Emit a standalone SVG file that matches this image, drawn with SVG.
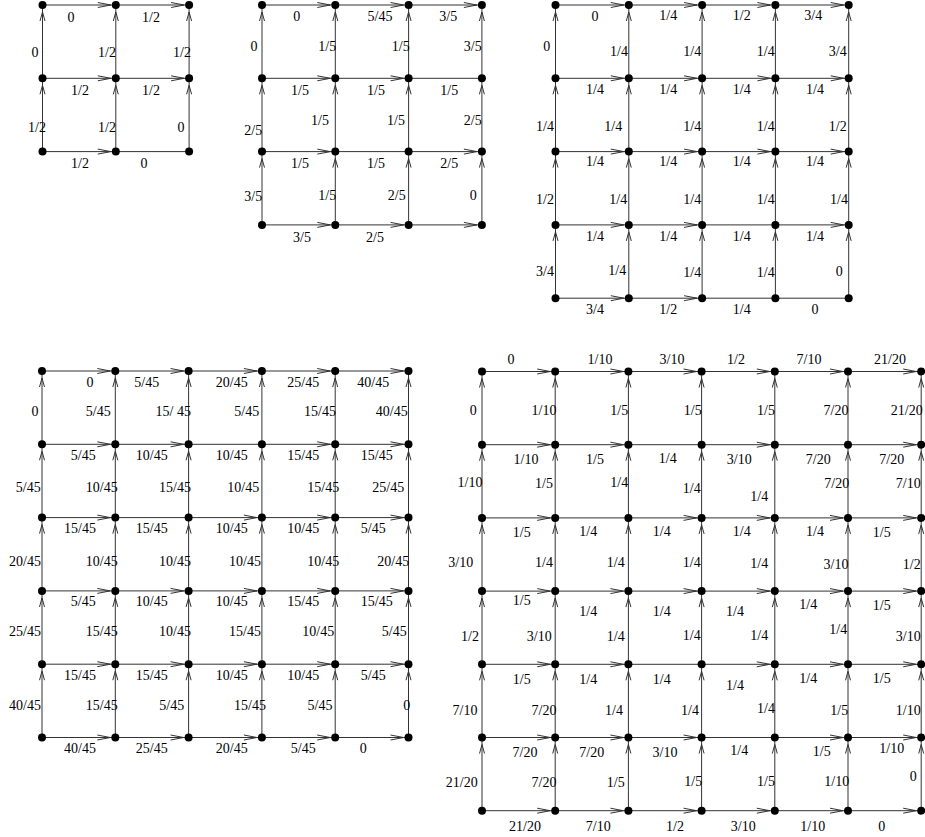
<svg xmlns="http://www.w3.org/2000/svg" width="925" height="837" viewBox="0 0 925 837">
<style>
.n{fill:#000}
.e{stroke:#333;stroke-width:1;fill:none}
.h{marker-end:url(#mh)}
.v{marker-end:url(#mv)}
text{font-family:"Liberation Serif","Times New Roman",serif;font-size:14px;fill:#000;text-anchor:middle}
</style>
<defs>
<marker id="mh" markerUnits="userSpaceOnUse" orient="auto" markerWidth="20" markerHeight="8" refX="18" refY="3" overflow="visible"><path d="M0,0.5 L13,3 L0,5.5" fill="none" stroke="#333" stroke-width="1"/></marker>
<marker id="mv" markerUnits="userSpaceOnUse" orient="auto" markerWidth="20" markerHeight="8" refX="16" refY="3" overflow="visible"><path d="M0,0.5 L9,3 L0,5.5" fill="none" stroke="#333" stroke-width="1"/></marker>
</defs>
<rect width="925" height="837" fill="#fff"/>
<g id="connectors">
<!-- grid 1 -->
<line x1="42.5" y1="5" x2="115.8" y2="5" class="e h"/>
<line x1="115.8" y1="5" x2="189.1" y2="5" class="e h"/>
<line x1="42.5" y1="78.3" x2="115.8" y2="78.3" class="e h"/>
<line x1="115.8" y1="78.3" x2="189.1" y2="78.3" class="e h"/>
<line x1="42.5" y1="151.6" x2="115.8" y2="151.6" class="e h"/>
<line x1="115.8" y1="151.6" x2="189.1" y2="151.6" class="e"/>
<line x1="42.5" y1="78.3" x2="42.5" y2="5" class="e v"/>
<line x1="42.5" y1="151.6" x2="42.5" y2="78.3" class="e v"/>
<line x1="115.8" y1="78.3" x2="115.8" y2="5" class="e v"/>
<line x1="115.8" y1="151.6" x2="115.8" y2="78.3" class="e v"/>
<line x1="189.1" y1="78.3" x2="189.1" y2="5" class="e v"/>
<line x1="189.1" y1="151.6" x2="189.1" y2="78.3" class="e v"/>
<!-- grid 2 -->
<line x1="262" y1="5" x2="335.3" y2="5" class="e h"/>
<line x1="335.3" y1="5" x2="408.6" y2="5" class="e h"/>
<line x1="408.6" y1="5" x2="481.9" y2="5" class="e h"/>
<line x1="262" y1="78.3" x2="335.3" y2="78.3" class="e h"/>
<line x1="335.3" y1="78.3" x2="408.6" y2="78.3" class="e h"/>
<line x1="408.6" y1="78.3" x2="481.9" y2="78.3" class="e"/>
<line x1="262" y1="151.6" x2="335.3" y2="151.6" class="e h"/>
<line x1="335.3" y1="151.6" x2="408.6" y2="151.6" class="e"/>
<line x1="408.6" y1="151.6" x2="481.9" y2="151.6" class="e h"/>
<line x1="262" y1="224.9" x2="335.3" y2="224.9" class="e h"/>
<line x1="335.3" y1="224.9" x2="408.6" y2="224.9" class="e h"/>
<line x1="408.6" y1="224.9" x2="481.9" y2="224.9" class="e h"/>
<line x1="262" y1="78.3" x2="262" y2="5" class="e v"/>
<line x1="262" y1="151.6" x2="262" y2="78.3" class="e v"/>
<line x1="262" y1="224.9" x2="262" y2="151.6" class="e v"/>
<line x1="335.3" y1="78.3" x2="335.3" y2="5" class="e v"/>
<line x1="335.3" y1="151.6" x2="335.3" y2="78.3" class="e v"/>
<line x1="335.3" y1="224.9" x2="335.3" y2="151.6" class="e v"/>
<line x1="408.6" y1="78.3" x2="408.6" y2="5" class="e v"/>
<line x1="408.6" y1="151.6" x2="408.6" y2="78.3" class="e v"/>
<line x1="408.6" y1="224.9" x2="408.6" y2="151.6" class="e v"/>
<line x1="481.9" y1="78.3" x2="481.9" y2="5" class="e v"/>
<line x1="481.9" y1="151.6" x2="481.9" y2="78.3" class="e v"/>
<line x1="481.9" y1="224.9" x2="481.9" y2="151.6" class="e v"/>
<!-- grid 3 -->
<line x1="555.5" y1="5" x2="628.8" y2="5" class="e h"/>
<line x1="628.8" y1="5" x2="702.1" y2="5" class="e h"/>
<line x1="702.1" y1="5" x2="775.4" y2="5" class="e h"/>
<line x1="775.4" y1="5" x2="848.7" y2="5" class="e h"/>
<line x1="555.5" y1="78.3" x2="628.8" y2="78.3" class="e h"/>
<line x1="628.8" y1="78.3" x2="702.1" y2="78.3" class="e h"/>
<line x1="702.1" y1="78.3" x2="775.4" y2="78.3" class="e h"/>
<line x1="775.4" y1="78.3" x2="848.7" y2="78.3" class="e h"/>
<line x1="555.5" y1="151.6" x2="628.8" y2="151.6" class="e h"/>
<line x1="628.8" y1="151.6" x2="702.1" y2="151.6" class="e h"/>
<line x1="702.1" y1="151.6" x2="775.4" y2="151.6" class="e h"/>
<line x1="775.4" y1="151.6" x2="848.7" y2="151.6" class="e h"/>
<line x1="555.5" y1="224.9" x2="628.8" y2="224.9" class="e h"/>
<line x1="628.8" y1="224.9" x2="702.1" y2="224.9" class="e h"/>
<line x1="702.1" y1="224.9" x2="775.4" y2="224.9" class="e"/>
<line x1="775.4" y1="224.9" x2="848.7" y2="224.9" class="e h"/>
<line x1="555.5" y1="298.2" x2="628.8" y2="298.2" class="e h"/>
<line x1="628.8" y1="298.2" x2="702.1" y2="298.2" class="e h"/>
<line x1="702.1" y1="298.2" x2="775.4" y2="298.2" class="e"/>
<line x1="775.4" y1="298.2" x2="848.7" y2="298.2" class="e"/>
<line x1="555.5" y1="78.3" x2="555.5" y2="5" class="e v"/>
<line x1="555.5" y1="151.6" x2="555.5" y2="78.3" class="e v"/>
<line x1="555.5" y1="224.9" x2="555.5" y2="151.6" class="e v"/>
<line x1="555.5" y1="298.2" x2="555.5" y2="224.9" class="e v"/>
<line x1="628.8" y1="78.3" x2="628.8" y2="5" class="e v"/>
<line x1="628.8" y1="151.6" x2="628.8" y2="78.3" class="e v"/>
<line x1="628.8" y1="224.9" x2="628.8" y2="151.6" class="e v"/>
<line x1="628.8" y1="298.2" x2="628.8" y2="224.9" class="e v"/>
<line x1="702.1" y1="78.3" x2="702.1" y2="5" class="e v"/>
<line x1="702.1" y1="151.6" x2="702.1" y2="78.3" class="e v"/>
<line x1="702.1" y1="224.9" x2="702.1" y2="151.6" class="e v"/>
<line x1="702.1" y1="298.2" x2="702.1" y2="224.9" class="e v"/>
<line x1="775.4" y1="78.3" x2="775.4" y2="5" class="e v"/>
<line x1="775.4" y1="151.6" x2="775.4" y2="78.3" class="e v"/>
<line x1="775.4" y1="224.9" x2="775.4" y2="151.6" class="e v"/>
<line x1="775.4" y1="298.2" x2="775.4" y2="224.9" class="e v"/>
<line x1="848.7" y1="78.3" x2="848.7" y2="5" class="e v"/>
<line x1="848.7" y1="151.6" x2="848.7" y2="78.3" class="e v"/>
<line x1="848.7" y1="224.9" x2="848.7" y2="151.6" class="e v"/>
<line x1="848.7" y1="298.2" x2="848.7" y2="224.9" class="e v"/>
<!-- grid 4 -->
<line x1="42" y1="371" x2="115.3" y2="371" class="e h"/>
<line x1="115.3" y1="371" x2="188.6" y2="371" class="e h"/>
<line x1="188.6" y1="371" x2="261.9" y2="371" class="e h"/>
<line x1="261.9" y1="371" x2="335.2" y2="371" class="e h"/>
<line x1="335.2" y1="371" x2="408.5" y2="371" class="e h"/>
<line x1="42" y1="444.3" x2="115.3" y2="444.3" class="e h"/>
<line x1="115.3" y1="444.3" x2="188.6" y2="444.3" class="e h"/>
<line x1="188.6" y1="444.3" x2="261.9" y2="444.3" class="e"/>
<line x1="261.9" y1="444.3" x2="335.2" y2="444.3" class="e h"/>
<line x1="335.2" y1="444.3" x2="408.5" y2="444.3" class="e h"/>
<line x1="42" y1="517.6" x2="115.3" y2="517.6" class="e h"/>
<line x1="115.3" y1="517.6" x2="188.6" y2="517.6" class="e"/>
<line x1="188.6" y1="517.6" x2="261.9" y2="517.6" class="e h"/>
<line x1="261.9" y1="517.6" x2="335.2" y2="517.6" class="e h"/>
<line x1="335.2" y1="517.6" x2="408.5" y2="517.6" class="e h"/>
<line x1="42" y1="590.9" x2="115.3" y2="590.9" class="e h"/>
<line x1="115.3" y1="590.9" x2="188.6" y2="590.9" class="e h"/>
<line x1="188.6" y1="590.9" x2="261.9" y2="590.9" class="e h"/>
<line x1="261.9" y1="590.9" x2="335.2" y2="590.9" class="e h"/>
<line x1="335.2" y1="590.9" x2="408.5" y2="590.9" class="e h"/>
<line x1="42" y1="664.2" x2="115.3" y2="664.2" class="e h"/>
<line x1="115.3" y1="664.2" x2="188.6" y2="664.2" class="e h"/>
<line x1="188.6" y1="664.2" x2="261.9" y2="664.2" class="e h"/>
<line x1="261.9" y1="664.2" x2="335.2" y2="664.2" class="e h"/>
<line x1="335.2" y1="664.2" x2="408.5" y2="664.2" class="e h"/>
<line x1="42" y1="737.5" x2="115.3" y2="737.5" class="e h"/>
<line x1="115.3" y1="737.5" x2="188.6" y2="737.5" class="e h"/>
<line x1="188.6" y1="737.5" x2="261.9" y2="737.5" class="e h"/>
<line x1="261.9" y1="737.5" x2="335.2" y2="737.5" class="e h"/>
<line x1="335.2" y1="737.5" x2="408.5" y2="737.5" class="e h"/>
<line x1="42" y1="444.3" x2="42" y2="371" class="e v"/>
<line x1="42" y1="517.6" x2="42" y2="444.3" class="e v"/>
<line x1="42" y1="590.9" x2="42" y2="517.6" class="e v"/>
<line x1="42" y1="664.2" x2="42" y2="590.9" class="e v"/>
<line x1="42" y1="737.5" x2="42" y2="664.2" class="e v"/>
<line x1="115.3" y1="444.3" x2="115.3" y2="371" class="e v"/>
<line x1="115.3" y1="517.6" x2="115.3" y2="444.3" class="e v"/>
<line x1="115.3" y1="590.9" x2="115.3" y2="517.6" class="e v"/>
<line x1="115.3" y1="664.2" x2="115.3" y2="590.9" class="e v"/>
<line x1="115.3" y1="737.5" x2="115.3" y2="664.2" class="e v"/>
<line x1="188.6" y1="444.3" x2="188.6" y2="371" class="e v"/>
<line x1="188.6" y1="517.6" x2="188.6" y2="444.3" class="e v"/>
<line x1="188.6" y1="590.9" x2="188.6" y2="517.6" class="e v"/>
<line x1="188.6" y1="664.2" x2="188.6" y2="590.9" class="e v"/>
<line x1="188.6" y1="737.5" x2="188.6" y2="664.2" class="e v"/>
<line x1="261.9" y1="444.3" x2="261.9" y2="371" class="e v"/>
<line x1="261.9" y1="517.6" x2="261.9" y2="444.3" class="e v"/>
<line x1="261.9" y1="590.9" x2="261.9" y2="517.6" class="e v"/>
<line x1="261.9" y1="664.2" x2="261.9" y2="590.9" class="e v"/>
<line x1="261.9" y1="737.5" x2="261.9" y2="664.2" class="e v"/>
<line x1="335.2" y1="444.3" x2="335.2" y2="371" class="e v"/>
<line x1="335.2" y1="517.6" x2="335.2" y2="444.3" class="e v"/>
<line x1="335.2" y1="590.9" x2="335.2" y2="517.6" class="e v"/>
<line x1="335.2" y1="664.2" x2="335.2" y2="590.9" class="e v"/>
<line x1="335.2" y1="737.5" x2="335.2" y2="664.2" class="e v"/>
<line x1="408.5" y1="444.3" x2="408.5" y2="371" class="e v"/>
<line x1="408.5" y1="517.6" x2="408.5" y2="444.3" class="e v"/>
<line x1="408.5" y1="590.9" x2="408.5" y2="517.6" class="e v"/>
<line x1="408.5" y1="664.2" x2="408.5" y2="590.9" class="e v"/>
<line x1="408.5" y1="737.5" x2="408.5" y2="664.2" class="e v"/>
<!-- grid 5 -->
<line x1="482" y1="371.5" x2="555.2" y2="371.5" class="e h"/>
<line x1="555.2" y1="371.5" x2="628.4" y2="371.5" class="e h"/>
<line x1="628.4" y1="371.5" x2="701.6" y2="371.5" class="e h"/>
<line x1="701.6" y1="371.5" x2="774.8" y2="371.5" class="e h"/>
<line x1="774.8" y1="371.5" x2="848" y2="371.5" class="e h"/>
<line x1="848" y1="371.5" x2="921.2" y2="371.5" class="e h"/>
<line x1="482" y1="444.7" x2="555.2" y2="444.7" class="e h"/>
<line x1="555.2" y1="444.7" x2="628.4" y2="444.7" class="e h"/>
<line x1="628.4" y1="444.7" x2="701.6" y2="444.7" class="e"/>
<line x1="701.6" y1="444.7" x2="774.8" y2="444.7" class="e h"/>
<line x1="774.8" y1="444.7" x2="848" y2="444.7" class="e"/>
<line x1="848" y1="444.7" x2="921.2" y2="444.7" class="e h"/>
<line x1="482" y1="517.9" x2="555.2" y2="517.9" class="e h"/>
<line x1="555.2" y1="517.9" x2="628.4" y2="517.9" class="e"/>
<line x1="628.4" y1="517.9" x2="701.6" y2="517.9" class="e h"/>
<line x1="701.6" y1="517.9" x2="774.8" y2="517.9" class="e h"/>
<line x1="774.8" y1="517.9" x2="848" y2="517.9" class="e h"/>
<line x1="848" y1="517.9" x2="921.2" y2="517.9" class="e h"/>
<line x1="482" y1="591.1" x2="555.2" y2="591.1" class="e h"/>
<line x1="555.2" y1="591.1" x2="628.4" y2="591.1" class="e h"/>
<line x1="628.4" y1="591.1" x2="701.6" y2="591.1" class="e h"/>
<line x1="701.6" y1="591.1" x2="774.8" y2="591.1" class="e h"/>
<line x1="774.8" y1="591.1" x2="848" y2="591.1" class="e h"/>
<line x1="848" y1="591.1" x2="921.2" y2="591.1" class="e h"/>
<line x1="482" y1="664.3" x2="555.2" y2="664.3" class="e h"/>
<line x1="555.2" y1="664.3" x2="628.4" y2="664.3" class="e h"/>
<line x1="628.4" y1="664.3" x2="701.6" y2="664.3" class="e"/>
<line x1="701.6" y1="664.3" x2="774.8" y2="664.3" class="e h"/>
<line x1="774.8" y1="664.3" x2="848" y2="664.3" class="e h"/>
<line x1="848" y1="664.3" x2="921.2" y2="664.3" class="e h"/>
<line x1="482" y1="737.5" x2="555.2" y2="737.5" class="e h"/>
<line x1="555.2" y1="737.5" x2="628.4" y2="737.5" class="e h"/>
<line x1="628.4" y1="737.5" x2="701.6" y2="737.5" class="e h"/>
<line x1="701.6" y1="737.5" x2="774.8" y2="737.5" class="e"/>
<line x1="774.8" y1="737.5" x2="848" y2="737.5" class="e h"/>
<line x1="848" y1="737.5" x2="921.2" y2="737.5" class="e h"/>
<line x1="482" y1="810.7" x2="555.2" y2="810.7" class="e h"/>
<line x1="555.2" y1="810.7" x2="628.4" y2="810.7" class="e h"/>
<line x1="628.4" y1="810.7" x2="701.6" y2="810.7" class="e h"/>
<line x1="701.6" y1="810.7" x2="774.8" y2="810.7" class="e h"/>
<line x1="774.8" y1="810.7" x2="848" y2="810.7" class="e h"/>
<line x1="848" y1="810.7" x2="921.2" y2="810.7" class="e h"/>
<line x1="482" y1="444.7" x2="482" y2="371.5" class="e v"/>
<line x1="482" y1="517.9" x2="482" y2="444.7" class="e v"/>
<line x1="482" y1="591.1" x2="482" y2="517.9" class="e v"/>
<line x1="482" y1="664.3" x2="482" y2="591.1" class="e v"/>
<line x1="482" y1="737.5" x2="482" y2="664.3" class="e v"/>
<line x1="482" y1="810.7" x2="482" y2="737.5" class="e v"/>
<line x1="555.2" y1="444.7" x2="555.2" y2="371.5" class="e v"/>
<line x1="555.2" y1="517.9" x2="555.2" y2="444.7" class="e v"/>
<line x1="555.2" y1="591.1" x2="555.2" y2="517.9" class="e v"/>
<line x1="555.2" y1="664.3" x2="555.2" y2="591.1" class="e v"/>
<line x1="555.2" y1="737.5" x2="555.2" y2="664.3" class="e v"/>
<line x1="555.2" y1="810.7" x2="555.2" y2="737.5" class="e v"/>
<line x1="628.4" y1="444.7" x2="628.4" y2="371.5" class="e v"/>
<line x1="628.4" y1="517.9" x2="628.4" y2="444.7" class="e v"/>
<line x1="628.4" y1="591.1" x2="628.4" y2="517.9" class="e v"/>
<line x1="628.4" y1="664.3" x2="628.4" y2="591.1" class="e v"/>
<line x1="628.4" y1="737.5" x2="628.4" y2="664.3" class="e v"/>
<line x1="628.4" y1="810.7" x2="628.4" y2="737.5" class="e v"/>
<line x1="701.6" y1="444.7" x2="701.6" y2="371.5" class="e v"/>
<line x1="701.6" y1="517.9" x2="701.6" y2="444.7" class="e v"/>
<line x1="701.6" y1="591.1" x2="701.6" y2="517.9" class="e v"/>
<line x1="701.6" y1="664.3" x2="701.6" y2="591.1" class="e v"/>
<line x1="701.6" y1="737.5" x2="701.6" y2="664.3" class="e v"/>
<line x1="701.6" y1="810.7" x2="701.6" y2="737.5" class="e v"/>
<line x1="774.8" y1="444.7" x2="774.8" y2="371.5" class="e v"/>
<line x1="774.8" y1="517.9" x2="774.8" y2="444.7" class="e v"/>
<line x1="774.8" y1="591.1" x2="774.8" y2="517.9" class="e v"/>
<line x1="774.8" y1="664.3" x2="774.8" y2="591.1" class="e v"/>
<line x1="774.8" y1="737.5" x2="774.8" y2="664.3" class="e v"/>
<line x1="774.8" y1="810.7" x2="774.8" y2="737.5" class="e v"/>
<line x1="848" y1="444.7" x2="848" y2="371.5" class="e v"/>
<line x1="848" y1="517.9" x2="848" y2="444.7" class="e v"/>
<line x1="848" y1="591.1" x2="848" y2="517.9" class="e v"/>
<line x1="848" y1="664.3" x2="848" y2="591.1" class="e v"/>
<line x1="848" y1="737.5" x2="848" y2="664.3" class="e v"/>
<line x1="848" y1="810.7" x2="848" y2="737.5" class="e v"/>
<line x1="921.2" y1="444.7" x2="921.2" y2="371.5" class="e v"/>
<line x1="921.2" y1="517.9" x2="921.2" y2="444.7" class="e v"/>
<line x1="921.2" y1="591.1" x2="921.2" y2="517.9" class="e v"/>
<line x1="921.2" y1="664.3" x2="921.2" y2="591.1" class="e v"/>
<line x1="921.2" y1="737.5" x2="921.2" y2="664.3" class="e v"/>
<line x1="921.2" y1="810.7" x2="921.2" y2="737.5" class="e v"/>
</g>
<g id="nodes">
<g id="g1r0c0"><circle class="n" cx="42.5" cy="5" r="4"/></g>
<g id="g1r0c1"><circle class="n" cx="115.8" cy="5" r="4"/></g>
<g id="g1r0c2"><circle class="n" cx="189.1" cy="5" r="4"/></g>
<g id="g1r1c0"><circle class="n" cx="42.5" cy="78.3" r="4"/></g>
<g id="g1r1c1"><circle class="n" cx="115.8" cy="78.3" r="4"/></g>
<g id="g1r1c2"><circle class="n" cx="189.1" cy="78.3" r="4"/></g>
<g id="g1r2c0"><circle class="n" cx="42.5" cy="151.6" r="4"/></g>
<g id="g1r2c1"><circle class="n" cx="115.8" cy="151.6" r="4"/></g>
<g id="g1r2c2"><circle class="n" cx="189.1" cy="151.6" r="4"/></g>
<g id="g2r0c0"><circle class="n" cx="262" cy="5" r="4"/></g>
<g id="g2r0c1"><circle class="n" cx="335.3" cy="5" r="4"/></g>
<g id="g2r0c2"><circle class="n" cx="408.6" cy="5" r="4"/></g>
<g id="g2r0c3"><circle class="n" cx="481.9" cy="5" r="4"/></g>
<g id="g2r1c0"><circle class="n" cx="262" cy="78.3" r="4"/></g>
<g id="g2r1c1"><circle class="n" cx="335.3" cy="78.3" r="4"/></g>
<g id="g2r1c2"><circle class="n" cx="408.6" cy="78.3" r="4"/></g>
<g id="g2r1c3"><circle class="n" cx="481.9" cy="78.3" r="4"/></g>
<g id="g2r2c0"><circle class="n" cx="262" cy="151.6" r="4"/></g>
<g id="g2r2c1"><circle class="n" cx="335.3" cy="151.6" r="4"/></g>
<g id="g2r2c2"><circle class="n" cx="408.6" cy="151.6" r="4"/></g>
<g id="g2r2c3"><circle class="n" cx="481.9" cy="151.6" r="4"/></g>
<g id="g2r3c0"><circle class="n" cx="262" cy="224.9" r="4"/></g>
<g id="g2r3c1"><circle class="n" cx="335.3" cy="224.9" r="4"/></g>
<g id="g2r3c2"><circle class="n" cx="408.6" cy="224.9" r="4"/></g>
<g id="g2r3c3"><circle class="n" cx="481.9" cy="224.9" r="4"/></g>
<g id="g3r0c0"><circle class="n" cx="555.5" cy="5" r="4"/></g>
<g id="g3r0c1"><circle class="n" cx="628.8" cy="5" r="4"/></g>
<g id="g3r0c2"><circle class="n" cx="702.1" cy="5" r="4"/></g>
<g id="g3r0c3"><circle class="n" cx="775.4" cy="5" r="4"/></g>
<g id="g3r0c4"><circle class="n" cx="848.7" cy="5" r="4"/></g>
<g id="g3r1c0"><circle class="n" cx="555.5" cy="78.3" r="4"/></g>
<g id="g3r1c1"><circle class="n" cx="628.8" cy="78.3" r="4"/></g>
<g id="g3r1c2"><circle class="n" cx="702.1" cy="78.3" r="4"/></g>
<g id="g3r1c3"><circle class="n" cx="775.4" cy="78.3" r="4"/></g>
<g id="g3r1c4"><circle class="n" cx="848.7" cy="78.3" r="4"/></g>
<g id="g3r2c0"><circle class="n" cx="555.5" cy="151.6" r="4"/></g>
<g id="g3r2c1"><circle class="n" cx="628.8" cy="151.6" r="4"/></g>
<g id="g3r2c2"><circle class="n" cx="702.1" cy="151.6" r="4"/></g>
<g id="g3r2c3"><circle class="n" cx="775.4" cy="151.6" r="4"/></g>
<g id="g3r2c4"><circle class="n" cx="848.7" cy="151.6" r="4"/></g>
<g id="g3r3c0"><circle class="n" cx="555.5" cy="224.9" r="4"/></g>
<g id="g3r3c1"><circle class="n" cx="628.8" cy="224.9" r="4"/></g>
<g id="g3r3c2"><circle class="n" cx="702.1" cy="224.9" r="4"/></g>
<g id="g3r3c3"><circle class="n" cx="775.4" cy="224.9" r="4"/></g>
<g id="g3r3c4"><circle class="n" cx="848.7" cy="224.9" r="4"/></g>
<g id="g3r4c0"><circle class="n" cx="555.5" cy="298.2" r="4"/></g>
<g id="g3r4c1"><circle class="n" cx="628.8" cy="298.2" r="4"/></g>
<g id="g3r4c2"><circle class="n" cx="702.1" cy="298.2" r="4"/></g>
<g id="g3r4c3"><circle class="n" cx="775.4" cy="298.2" r="4"/></g>
<g id="g3r4c4"><circle class="n" cx="848.7" cy="298.2" r="4"/></g>
<g id="g4r0c0"><circle class="n" cx="42" cy="371" r="4"/></g>
<g id="g4r0c1"><circle class="n" cx="115.3" cy="371" r="4"/></g>
<g id="g4r0c2"><circle class="n" cx="188.6" cy="371" r="4"/></g>
<g id="g4r0c3"><circle class="n" cx="261.9" cy="371" r="4"/></g>
<g id="g4r0c4"><circle class="n" cx="335.2" cy="371" r="4"/></g>
<g id="g4r0c5"><circle class="n" cx="408.5" cy="371" r="4"/></g>
<g id="g4r1c0"><circle class="n" cx="42" cy="444.3" r="4"/></g>
<g id="g4r1c1"><circle class="n" cx="115.3" cy="444.3" r="4"/></g>
<g id="g4r1c2"><circle class="n" cx="188.6" cy="444.3" r="4"/></g>
<g id="g4r1c3"><circle class="n" cx="261.9" cy="444.3" r="4"/></g>
<g id="g4r1c4"><circle class="n" cx="335.2" cy="444.3" r="4"/></g>
<g id="g4r1c5"><circle class="n" cx="408.5" cy="444.3" r="4"/></g>
<g id="g4r2c0"><circle class="n" cx="42" cy="517.6" r="4"/></g>
<g id="g4r2c1"><circle class="n" cx="115.3" cy="517.6" r="4"/></g>
<g id="g4r2c2"><circle class="n" cx="188.6" cy="517.6" r="4"/></g>
<g id="g4r2c3"><circle class="n" cx="261.9" cy="517.6" r="4"/></g>
<g id="g4r2c4"><circle class="n" cx="335.2" cy="517.6" r="4"/></g>
<g id="g4r2c5"><circle class="n" cx="408.5" cy="517.6" r="4"/></g>
<g id="g4r3c0"><circle class="n" cx="42" cy="590.9" r="4"/></g>
<g id="g4r3c1"><circle class="n" cx="115.3" cy="590.9" r="4"/></g>
<g id="g4r3c2"><circle class="n" cx="188.6" cy="590.9" r="4"/></g>
<g id="g4r3c3"><circle class="n" cx="261.9" cy="590.9" r="4"/></g>
<g id="g4r3c4"><circle class="n" cx="335.2" cy="590.9" r="4"/></g>
<g id="g4r3c5"><circle class="n" cx="408.5" cy="590.9" r="4"/></g>
<g id="g4r4c0"><circle class="n" cx="42" cy="664.2" r="4"/></g>
<g id="g4r4c1"><circle class="n" cx="115.3" cy="664.2" r="4"/></g>
<g id="g4r4c2"><circle class="n" cx="188.6" cy="664.2" r="4"/></g>
<g id="g4r4c3"><circle class="n" cx="261.9" cy="664.2" r="4"/></g>
<g id="g4r4c4"><circle class="n" cx="335.2" cy="664.2" r="4"/></g>
<g id="g4r4c5"><circle class="n" cx="408.5" cy="664.2" r="4"/></g>
<g id="g4r5c0"><circle class="n" cx="42" cy="737.5" r="4"/></g>
<g id="g4r5c1"><circle class="n" cx="115.3" cy="737.5" r="4"/></g>
<g id="g4r5c2"><circle class="n" cx="188.6" cy="737.5" r="4"/></g>
<g id="g4r5c3"><circle class="n" cx="261.9" cy="737.5" r="4"/></g>
<g id="g4r5c4"><circle class="n" cx="335.2" cy="737.5" r="4"/></g>
<g id="g4r5c5"><circle class="n" cx="408.5" cy="737.5" r="4"/></g>
<g id="g5r0c0"><circle class="n" cx="482" cy="371.5" r="4"/></g>
<g id="g5r0c1"><circle class="n" cx="555.2" cy="371.5" r="4"/></g>
<g id="g5r0c2"><circle class="n" cx="628.4" cy="371.5" r="4"/></g>
<g id="g5r0c3"><circle class="n" cx="701.6" cy="371.5" r="4"/></g>
<g id="g5r0c4"><circle class="n" cx="774.8" cy="371.5" r="4"/></g>
<g id="g5r0c5"><circle class="n" cx="848" cy="371.5" r="4"/></g>
<g id="g5r0c6"><circle class="n" cx="921.2" cy="371.5" r="4"/></g>
<g id="g5r1c0"><circle class="n" cx="482" cy="444.7" r="4"/></g>
<g id="g5r1c1"><circle class="n" cx="555.2" cy="444.7" r="4"/></g>
<g id="g5r1c2"><circle class="n" cx="628.4" cy="444.7" r="4"/></g>
<g id="g5r1c3"><circle class="n" cx="701.6" cy="444.7" r="4"/></g>
<g id="g5r1c4"><circle class="n" cx="774.8" cy="444.7" r="4"/></g>
<g id="g5r1c5"><circle class="n" cx="848" cy="444.7" r="4"/></g>
<g id="g5r1c6"><circle class="n" cx="921.2" cy="444.7" r="4"/></g>
<g id="g5r2c0"><circle class="n" cx="482" cy="517.9" r="4"/></g>
<g id="g5r2c1"><circle class="n" cx="555.2" cy="517.9" r="4"/></g>
<g id="g5r2c2"><circle class="n" cx="628.4" cy="517.9" r="4"/></g>
<g id="g5r2c3"><circle class="n" cx="701.6" cy="517.9" r="4"/></g>
<g id="g5r2c4"><circle class="n" cx="774.8" cy="517.9" r="4"/></g>
<g id="g5r2c5"><circle class="n" cx="848" cy="517.9" r="4"/></g>
<g id="g5r2c6"><circle class="n" cx="921.2" cy="517.9" r="4"/></g>
<g id="g5r3c0"><circle class="n" cx="482" cy="591.1" r="4"/></g>
<g id="g5r3c1"><circle class="n" cx="555.2" cy="591.1" r="4"/></g>
<g id="g5r3c2"><circle class="n" cx="628.4" cy="591.1" r="4"/></g>
<g id="g5r3c3"><circle class="n" cx="701.6" cy="591.1" r="4"/></g>
<g id="g5r3c4"><circle class="n" cx="774.8" cy="591.1" r="4"/></g>
<g id="g5r3c5"><circle class="n" cx="848" cy="591.1" r="4"/></g>
<g id="g5r3c6"><circle class="n" cx="921.2" cy="591.1" r="4"/></g>
<g id="g5r4c0"><circle class="n" cx="482" cy="664.3" r="4"/></g>
<g id="g5r4c1"><circle class="n" cx="555.2" cy="664.3" r="4"/></g>
<g id="g5r4c2"><circle class="n" cx="628.4" cy="664.3" r="4"/></g>
<g id="g5r4c3"><circle class="n" cx="701.6" cy="664.3" r="4"/></g>
<g id="g5r4c4"><circle class="n" cx="774.8" cy="664.3" r="4"/></g>
<g id="g5r4c5"><circle class="n" cx="848" cy="664.3" r="4"/></g>
<g id="g5r4c6"><circle class="n" cx="921.2" cy="664.3" r="4"/></g>
<g id="g5r5c0"><circle class="n" cx="482" cy="737.5" r="4"/></g>
<g id="g5r5c1"><circle class="n" cx="555.2" cy="737.5" r="4"/></g>
<g id="g5r5c2"><circle class="n" cx="628.4" cy="737.5" r="4"/></g>
<g id="g5r5c3"><circle class="n" cx="701.6" cy="737.5" r="4"/></g>
<g id="g5r5c4"><circle class="n" cx="774.8" cy="737.5" r="4"/></g>
<g id="g5r5c5"><circle class="n" cx="848" cy="737.5" r="4"/></g>
<g id="g5r5c6"><circle class="n" cx="921.2" cy="737.5" r="4"/></g>
<g id="g5r6c0"><circle class="n" cx="482" cy="810.7" r="4"/></g>
<g id="g5r6c1"><circle class="n" cx="555.2" cy="810.7" r="4"/></g>
<g id="g5r6c2"><circle class="n" cx="628.4" cy="810.7" r="4"/></g>
<g id="g5r6c3"><circle class="n" cx="701.6" cy="810.7" r="4"/></g>
<g id="g5r6c4"><circle class="n" cx="774.8" cy="810.7" r="4"/></g>
<g id="g5r6c5"><circle class="n" cx="848" cy="810.7" r="4"/></g>
<g id="g5r6c6"><circle class="n" cx="921.2" cy="810.7" r="4"/></g>
</g>
<g id="labels">
<!-- grid 1 -->
<text x="71" y="21.5">0</text><text x="151" y="21.5">1/2</text>
<text x="35" y="56.5">0</text><text x="107" y="56.5">1/2</text><text x="182" y="56.5">1/2</text>
<text x="80" y="94.5">1/2</text><text x="151" y="94.5">1/2</text>
<text x="37" y="131.5">1/2</text><text x="107" y="131.5">1/2</text><text x="181" y="131.5">0</text>
<text x="80" y="167.5">1/2</text><text x="144" y="167.5">0</text>
<!-- grid 2 -->
<text x="296.7" y="21.2">0</text><text x="380" y="21.2">5/45</text><text x="448.3" y="21.2">3/5</text>
<text x="254" y="51.2">0</text><text x="327.3" y="51.2">1/5</text><text x="400.7" y="51.2">1/5</text><text x="472.7" y="51.2">3/5</text>
<text x="300" y="94.5">1/5</text><text x="376" y="94.5">1/5</text><text x="449.3" y="94.5">1/5</text>
<text x="253.3" y="134.5">2/5</text><text x="320" y="124.5">1/5</text><text x="396" y="124.5">1/5</text><text x="472.7" y="124.5">2/5</text>
<text x="300" y="167.8">1/5</text><text x="376" y="167.8">1/5</text><text x="449.3" y="167.8">2/5</text>
<text x="253.3" y="201.2">3/5</text><text x="327.3" y="199.5">1/5</text><text x="396.7" y="199.5">2/5</text><text x="473.3" y="199.5">0</text>
<text x="302" y="241.5">3/5</text><text x="375" y="241.5">2/5</text>
<!-- grid 3 -->
<text x="595" y="21.2">0</text><text x="668.3" y="19.5">1/4</text><text x="741.7" y="19.5">1/2</text><text x="813.3" y="19.5">3/4</text>
<text x="546.7" y="51.2">0</text><text x="619" y="56.2">1/4</text><text x="692.3" y="56.2">1/4</text><text x="765.7" y="56.2">1/4</text><text x="837.7" y="56.2">3/4</text>
<text x="595" y="93.8">1/4</text><text x="668.3" y="93.8">1/4</text><text x="741.7" y="93.8">1/4</text><text x="815" y="93.8">1/4</text>
<text x="545" y="130.5">1/4</text><text x="613.3" y="130.5">1/4</text><text x="692.3" y="130.5">1/4</text><text x="765.7" y="130.5">1/4</text><text x="837.7" y="130.5">1/2</text>
<text x="595" y="166.2">1/4</text><text x="668.3" y="166.2">1/4</text><text x="741.7" y="166.2">1/4</text><text x="815" y="166.2">1/4</text>
<text x="545" y="203.8">1/2</text><text x="618.3" y="203.8">1/4</text><text x="692.3" y="203.8">1/4</text><text x="765.7" y="203.8">1/4</text><text x="839" y="203.8">1/4</text>
<text x="595" y="240.5">1/4</text><text x="668.3" y="240.5">1/4</text><text x="741.7" y="240.5">1/4</text><text x="815" y="240.5">1/4</text>
<text x="545" y="276.2">3/4</text><text x="617.3" y="274.5">1/4</text><text x="692.3" y="277.2">1/4</text><text x="765.7" y="277.2">1/4</text><text x="839.3" y="276.2">0</text>
<text x="595" y="313.8">3/4</text><text x="668.3" y="313.8">1/2</text><text x="741.7" y="313.8">1/4</text><text x="815" y="313.8">0</text>
<!-- grid 4 -->
<text x="90" y="387.2">0</text><text x="146.7" y="387.2">5/45</text><text x="231.7" y="387.2">20/45</text><text x="303.3" y="387.2">25/45</text><text x="373.3" y="387.2">40/45</text>
<text x="35" y="416.2">0</text><text x="98.3" y="416.2">5/45</text><text x="173.3" y="416.2">15/ 45</text><text x="246.7" y="416.2">5/45</text><text x="320" y="416.2">15/45</text><text x="391.7" y="416.2">40/45</text>
<text x="83.3" y="460.2">5/45</text><text x="151.7" y="460.2">10/45</text><text x="231.7" y="460.2">10/45</text><text x="303.3" y="460.2">15/45</text><text x="376.7" y="460.2">15/45</text>
<text x="28.3" y="492.2">5/45</text><text x="101.7" y="492.2">10/45</text><text x="175" y="492.2">15/45</text><text x="243.3" y="492.2">10/45</text><text x="323.3" y="492.2">15/45</text><text x="388.3" y="492.2">25/45</text>
<text x="80" y="532.8">15/45</text><text x="151.7" y="532.8">15/45</text><text x="231.7" y="532.8">10/45</text><text x="303.3" y="532.8">10/45</text><text x="373.3" y="532.8">5/45</text>
<text x="25" y="566.2">20/45</text><text x="101.7" y="566.2">10/45</text><text x="175" y="566.2">10/45</text><text x="245" y="566.2">10/45</text><text x="323.3" y="566.2">10/45</text><text x="393.3" y="566.2">20/45</text>
<text x="83.3" y="606.2">5/45</text><text x="151.7" y="606.2">10/45</text><text x="231.7" y="606.2">10/45</text><text x="303.3" y="606.2">15/45</text><text x="376.7" y="606.2">15/45</text>
<text x="25" y="636.2">25/45</text><text x="101.7" y="636.2">15/45</text><text x="175" y="636.2">10/45</text><text x="245" y="636.2">15/45</text><text x="318.3" y="636.2">10/45</text><text x="394.3" y="636.2">5/45</text>
<text x="80" y="679.5">15/45</text><text x="151.7" y="679.5">15/45</text><text x="231.7" y="679.5">10/45</text><text x="303.3" y="679.5">10/45</text><text x="373.3" y="679.5">5/45</text>
<text x="25" y="709.5">40/45</text><text x="101.7" y="709.5">15/45</text><text x="171.7" y="709.5">5/45</text><text x="250" y="709.5">15/45</text><text x="320" y="709.5">5/45</text><text x="406.7" y="709.5">0</text>
<text x="80" y="752.8">40/45</text><text x="151.7" y="752.8">25/45</text><text x="231.7" y="752.8">20/45</text><text x="303.3" y="752.8">5/45</text><text x="363.3" y="752.8">0</text>
<!-- grid 5 -->
<text x="511" y="363.5">0</text><text x="600" y="363.5">1/10</text><text x="672" y="363.5">3/10</text><text x="736" y="363.5">1/2</text><text x="809" y="363.5">7/10</text><text x="890" y="363.5">21/20</text>
<text x="473.3" y="415.2">0</text><text x="544" y="415.2">1/10</text><text x="619.3" y="415.2">1/5</text><text x="692.7" y="415.2">1/5</text><text x="766" y="415.2">1/5</text><text x="836" y="415.2">7/20</text><text x="906.7" y="415.2">21/20</text>
<text x="526" y="463.8">1/10</text><text x="595" y="463.8">1/5</text><text x="667.7" y="462.8">1/4</text><text x="739.3" y="463.8">3/10</text><text x="818.3" y="463.8">7/20</text><text x="891.7" y="463.8">7/20</text>
<text x="470" y="487.2">1/10</text><text x="544" y="487.8">1/5</text><text x="619.3" y="487.2">1/4</text><text x="691.7" y="492.8">1/4</text><text x="759.3" y="500.5">1/4</text><text x="836.7" y="487.8">7/20</text><text x="908.3" y="487.8">7/10</text>
<text x="521.7" y="537.2">1/5</text><text x="588.3" y="536.2">1/4</text><text x="661.7" y="536.2">1/4</text><text x="741.7" y="536.2">1/4</text><text x="815" y="536.2">1/4</text><text x="881.7" y="537.2">1/5</text>
<text x="460.7" y="567.2">3/10</text><text x="544" y="567.2">1/4</text><text x="615.7" y="567.2">1/4</text><text x="691.7" y="567.2">1/4</text><text x="759.3" y="567.8">1/4</text><text x="836" y="568.5">3/10</text><text x="911.7" y="568.5">1/2</text>
<text x="521.7" y="604.5">1/5</text><text x="588.3" y="616.2">1/4</text><text x="661.7" y="616.2">1/4</text><text x="735" y="616.2">1/4</text><text x="808.3" y="608.5">1/4</text><text x="881.7" y="609.5">1/5</text>
<text x="470" y="641.2">1/2</text><text x="539.3" y="640.5">3/10</text><text x="615.7" y="640.5">1/4</text><text x="691.7" y="639.5">1/4</text><text x="759.3" y="639.5">1/4</text><text x="838.3" y="633.8">1/4</text><text x="908.3" y="641.2">3/10</text>
<text x="521.7" y="683.8">1/5</text><text x="588.3" y="683.8">1/4</text><text x="661.7" y="683.8">1/4</text><text x="735" y="689.5">1/4</text><text x="808.3" y="682.8">1/4</text><text x="881.7" y="682.8">1/5</text>
<text x="465" y="714.5">7/10</text><text x="544" y="714.5">7/20</text><text x="614" y="714.5">1/4</text><text x="690" y="714.5">1/4</text><text x="766" y="712.8">1/4</text><text x="839.3" y="714.5">1/5</text><text x="908.3" y="714.5">1/10</text>
<text x="525" y="756.8">7/20</text><text x="591.7" y="756.8">7/20</text><text x="665" y="756.8">3/10</text><text x="739.3" y="755.2">1/4</text><text x="821.7" y="756.2">1/5</text><text x="891.7" y="752.8">1/10</text>
<text x="461.7" y="787.2">21/20</text><text x="544" y="787.2">7/20</text><text x="615.7" y="787.2">1/5</text><text x="693.3" y="786.2">1/5</text><text x="766" y="786.2">1/5</text><text x="836.7" y="786.2">1/10</text><text x="913.3" y="781.2">0</text>
<text x="525" y="830.5">21/20</text><text x="598.3" y="830.5">7/10</text><text x="675" y="830.5">1/2</text><text x="743.3" y="830.5">3/10</text><text x="812.7" y="830.5">1/10</text><text x="881.7" y="830.5">0</text>
</g>
</svg>
